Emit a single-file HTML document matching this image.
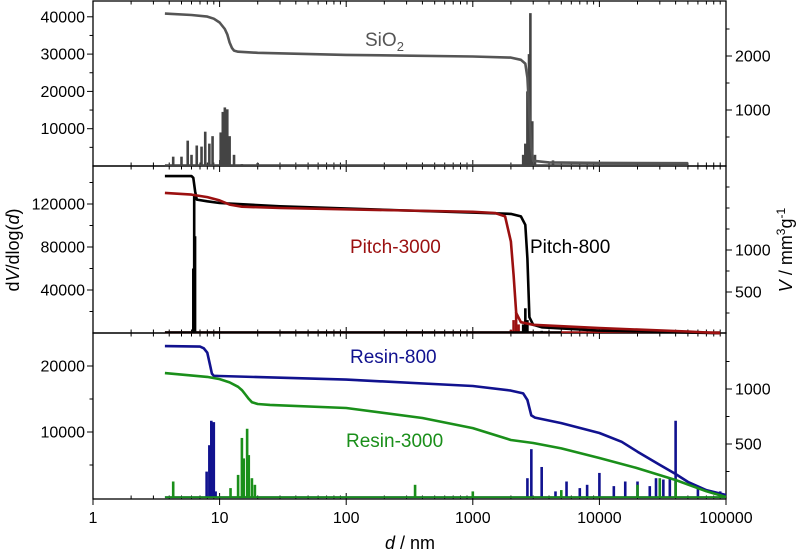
<!DOCTYPE html>
<html><head><meta charset="utf-8"><style>
html,body{margin:0;padding:0;background:#fff;}
svg{display:block;font-family:"Liberation Sans",Arial,sans-serif;}
</style></head><body>
<svg id="chart" width="807" height="554" viewBox="0 0 807 554" xmlns="http://www.w3.org/2000/svg"></svg>
<script>
// ---- data ----
const xTicks = [1, 10, 100, 1000, 10000, 100000];
const xTickLabels = ["1", "10", "100", "1000", "10000", "100000"];

// SiO2
const sio2VD = [3.7, 6, 8, 9, 10, 11, 11.5, 12, 12.5, 13, 14, 20, 100, 1000, 2000, 2400, 2600, 2700, 2800, 2900, 3000, 4000, 10000, 50000];
const sio2V  = [2785, 2760, 2730, 2690, 2620, 2500, 2400, 2250, 2150, 2100, 2080, 2060, 2020, 1990, 1970, 1930, 1860, 1600, 900, 300, 60, 30, 20, 15];
const sio2dD = [4.3, 5, 5.6, 6, 6.6, 7.2, 7.7, 8.3, 8.8, 10.2, 10.6, 11, 11.5, 12, 13, 15, 20, 2500, 2600, 2700, 2780, 2850, 2950, 3100, 4300];
const sio2dV = [2500, 2500, 6800, 3000, 5500, 5200, 9200, 6000, 8000, 9000, 14500, 15700, 15200, 8000, 3000, 500, 800, 3000, 6000, 20000, 30000, 41000, 12000, 3000, 1500];

// Pitch-800
const p800VD = [3.7, 6.0, 6.2, 6.4, 6.6, 8, 10, 30, 300, 1000, 2000, 2400, 2600, 2700, 2800, 3000, 3500, 10000, 90000];
const p800V  = [1880, 1880, 1860, 1700, 1600, 1580, 1560, 1520, 1470, 1445, 1430, 1400, 1300, 900, 200, 110, 80, 40, 10];
const p800dD = [6.2, 6.3, 6.4, 2500, 2600, 2700, 3500];
const p800dV = [60000, 128000, 90000, 8000, 23000, 12000, 2000];
// Pitch-3000
const p3000VD = [3.7, 6, 8, 10, 12, 15, 30, 300, 1000, 1500, 1800, 2000, 2100, 2200, 2400, 3000, 10000, 50000, 90000];
const p3000V  = [1680, 1660, 1630, 1590, 1540, 1515, 1500, 1470, 1455, 1440, 1400, 1100, 700, 250, 140, 110, 70, 30, 10];
const p3000dD = [2000, 2100, 2200, 2300, 48000];
const p3000dV = [3000, 12000, 19500, 8000, 2000];

// Resin-800
const r800VD = [3.7, 7, 7.5, 8, 8.4, 8.7, 9, 10, 100, 1000, 2000, 2500, 2700, 2900, 3100, 5000, 10000, 15000, 20000, 30000, 40000, 50000, 70000, 100000];
const r800V  = [1390, 1385, 1370, 1330, 1220, 1140, 1120, 1118, 1085, 1027, 985, 960, 900, 760, 740, 690, 600, 520, 430, 310, 227, 155, 80, 36];
const r800dD = [7.9, 8.3, 8.6, 9.0, 9.3, 2700, 2900, 3500, 4500, 5500, 7000, 8000, 10000, 13000, 16000, 20000, 25000, 28000, 32000, 36000, 40000, 60000, 90000];
const r800dV = [4000, 8000, 11700, 11500, 1000, 3000, 7400, 4700, 1000, 2500, 1500, 2000, 3800, 1800, 2500, 2500, 1800, 3000, 2800, 3000, 11700, 1500, 1000];
// Resin-3000
const r3000VD = [3.7, 8, 10, 12, 14, 15, 16, 17, 18, 20, 25, 100, 400, 1000, 2000, 3000, 5000, 10000, 20000, 40000, 70000, 100000];
const r3000V  = [1145, 1110, 1090, 1060, 1020, 990, 950, 910, 880, 864, 855, 827, 736, 645, 536, 509, 460, 373, 280, 173, 70, 18];
const r3000dD = [4.3, 12.2, 14, 15, 15.5, 16.5, 17, 18, 19, 350, 1000, 5000, 20000, 30000, 40000];
const r3000dV = [2500, 1500, 3500, 9100, 6000, 10500, 6500, 3000, 2000, 2000, 1000, 1200, 2000, 3000, 2500];

// ---- layout ----
const svg = document.getElementById('chart');
const NS = 'http://www.w3.org/2000/svg';
const X0 = 93, X1 = 726, DEC = (X1 - X0) / 5;
function X(d){ return X0 + Math.log10(d) * DEC; }
const panels = [
  {name:'sio2', top:1, bot:166, l0:166, lpx:37.3/10000, r0:164, rpx:54/1000,
   lt:[10000,20000,30000,40000], lmin:5000, rt:[1000,2000], rmin:500},
  {name:'pitch', top:166, bot:333, l0:333, lpx:43/40000, r0:334, rpx:42/500,
   lt:[40000,80000,120000], lmin:20000, rt:[500,1000], rmin:250},
  {name:'resin', top:333, bot:499, l0:498, lpx:66/10000, r0:499, rpx:55/500,
   lt:[10000,20000], lmin:5000, rt:[500,1000], rmin:250}
];
function el(tag, attrs, parent){ const e=document.createElementNS(NS,tag); for(const k in attrs) e.setAttribute(k,attrs[k]); (parent||svg).appendChild(e); return e; }

function drawV(p, ds, vs, color, name){
  const pts = ds.map((d,i)=> X(d).toFixed(1)+','+Math.max(p.top+1, p.r0 - vs[i]*p.rpx).toFixed(1)).join(' ');
  const e = el('polyline',{points:pts,fill:'none',stroke:color,'stroke-width':2.6,'stroke-linejoin':'round'});
  
  
}
function drawDV(p, ds, vs, color, name, start, end){
  const g = el('g',{});
  
  
  el('line',{x1:X(start),x2:X(end),y1:p.l0-0.8,y2:p.l0-0.8,stroke:color,'stroke-width':1.8},g);
  ds.forEach((d,i)=>{
    const b = el('line',{x1:X(d),x2:X(d),y1:p.l0,y2:Math.max(p.top+1,p.l0 - vs[i]*p.lpx),stroke:color,'stroke-width':2.6},g);
    
    
  });
}

// axes & ticks
panels.forEach(p=>{
  const g = el('g',{});
  
  
  el('rect',{x:X0,y:p.top,width:X1-X0,height:p.bot-p.top,fill:'none',stroke:'#000','stroke-width':1.3},g);
  for(let e=0;e<5;e++){
    for(let m=1;m<=9;m++){
      const x = X(Math.pow(10,e)*m); const len = m===1?6:3.5;
      el('line',{x1:x,x2:x,y1:p.bot,y2:p.bot-len,stroke:'#000','stroke-width':1},g);
      el('line',{x1:x,x2:x,y1:p.top,y2:p.top+len,stroke:'#000','stroke-width':1},g);
    }
  }
  for(let v=p.lmin; p.l0 - v*p.lpx > p.top+2; v+=p.lmin){
    const y = p.l0 - v*p.lpx; const maj = p.lt.includes(v);
    el('line',{x1:X0,x2:X0-(maj?6:3.5),y1:y,y2:y,stroke:'#000','stroke-width':1},g);
  }
  p.lt.forEach(v=>{
    const t = el('text',{x:X0-8,y:p.l0 - v*p.lpx+5.5,'text-anchor':'end','font-size':16,fill:'#000'},g);
    t.textContent = v;
    
    
  });
  for(let v=p.rmin; p.r0 - v*p.rpx > p.top+2; v+=p.rmin){
    const y = p.r0 - v*p.rpx; const maj = p.rt.includes(v);
    el('line',{x1:X1,x2:X1+(maj?6:3.5),y1:y,y2:y,stroke:'#000','stroke-width':1},g);
  }
  p.rt.forEach(v=>{
    const t = el('text',{x:X1+9,y:p.r0 - v*p.rpx+5.5,'text-anchor':'start','font-size':16,fill:'#000'},g);
    t.textContent = v;
    
    
  });
});
xTicks.forEach((d,i)=>{
  el('line',{x1:X(d),x2:X(d),y1:499,y2:505,stroke:'#000','stroke-width':1});
  const t = el('text',{x:X(d),y:523,'text-anchor':'middle','font-size':16,fill:'#000'});
  t.textContent = xTickLabels[i];
  
  
});

// series
const P=panels;
drawDV(P[0], sio2dD, sio2dV, '#444', 'sio2-dv', 3.7, 50000);
drawV(P[0], sio2VD, sio2V, '#555', 'sio2-v');
drawDV(P[1], p3000dD, p3000dV, '#9b1010', 'pitch3000-dv', 3.7, 90000);
drawDV(P[1], p800dD, p800dV, '#000', 'pitch800-dv', 3.7, 5000);
drawV(P[1], p800VD, p800V, '#000', 'pitch800-v');
drawV(P[1], p3000VD, p3000V, '#9b1010', 'pitch3000-v');
drawDV(P[2], r800dD, r800dV, '#11128f', 'resin800-dv', 3.7, 100000);
drawDV(P[2], r3000dD, r3000dV, '#1a8f1a', 'resin3000-dv', 3.7, 100000);
drawV(P[2], r800VD, r800V, '#11128f', 'resin800-v');
drawV(P[2], r3000VD, r3000V, '#1a8f1a', 'resin3000-v');
</script>
<svg style="position:absolute;left:0;top:0" width="807" height="554" xmlns="http://www.w3.org/2000/svg" font-family="Liberation Sans, Arial, sans-serif">
  <text x="365" y="46" font-size="19" fill="#555">SiO<tspan font-size="13" dy="5">2</tspan></text>
  <text x="350" y="253" font-size="19" fill="#9b1010">Pitch-3000</text>
  <text x="530" y="253" font-size="19" fill="#000">Pitch-800</text>
  <text x="350" y="363" font-size="19" fill="#11128f">Resin-800</text>
  <text x="346" y="447" font-size="19" fill="#1a8f1a">Resin-3000</text>
  <text x="410" y="549" font-size="18" text-anchor="middle" fill="#000"><tspan font-style="italic">d</tspan> / nm</text>
  <text transform="translate(19,250) rotate(-90)" font-size="18" text-anchor="middle" fill="#000">d<tspan font-style="italic">V</tspan>/dlog(<tspan font-style="italic">d</tspan>)</text>
  <text transform="translate(792,250) rotate(-90)" font-size="18" text-anchor="middle" fill="#000"><tspan font-style="italic">V</tspan> / mm<tspan font-size="12" dy="-7">3</tspan><tspan dy="7">g</tspan><tspan font-size="12" dy="-7">-1</tspan></text>
</svg>
</body></html>
